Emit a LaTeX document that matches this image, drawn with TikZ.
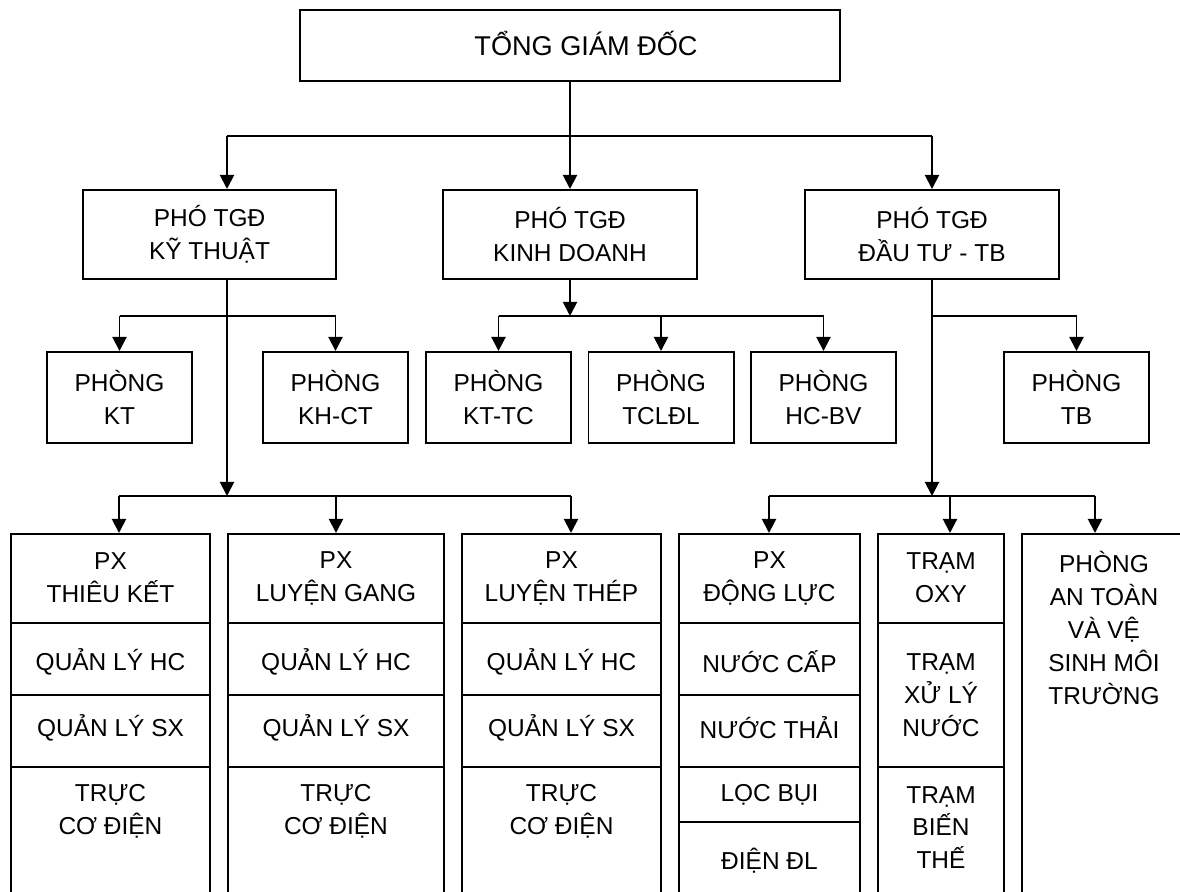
\documentclass[tikz,border=0pt]{standalone}
\usepackage{fontspec}
\setmainfont{Liberation Sans}
\usetikzlibrary{arrows.meta}

\begin{document}
\begin{tikzpicture}[
  x=0.025cm, y=-0.025cm,
  every node/.style={font=\fontsize{17.4}{23.4}\selectfont},
  box/.style={draw, line width=1.4pt, align=center, inner sep=0pt},
  lbl/.style={align=center, inner sep=0pt},
  wire/.style={line width=1.4pt},
  link/.style={wire, -{Triangle[length=0.35cm, width=0.35cm]}},
]

% page frame (pixel units, y grows downward)
\path[use as bounding box, clip] (0,0) rectangle (1180,892);

% ============================================================
% TOP LEVELS
% ============================================================
\node[box, minimum width=13.5cm, minimum height=1.775cm]
  (tgd) at (570,45.5) {};
\node[lbl, font=\fontsize{19.3}{24}\selectfont]
  (tgd-txt) at (586,43) {TỔNG GIÁM ĐỐC};

\node[box, minimum width=6.33cm, minimum height=2.225cm]
  (pkt) at (209.5,234.5) {PHÓ TGĐ\\KỸ THUẬT};
\node[box, minimum width=6.33cm, minimum height=2.225cm]
  (pkd) at (570,234.5) {PHÓ TGĐ\\KINH DOANH};
\node[box, minimum width=6.33cm, minimum height=2.225cm]
  (pdt) at (932,234.5) {PHÓ TGĐ\\ĐẦU TƯ - TB};

% offices
\foreach \nm/\xc/\txt in {pkythuat/119.5/KT, pkhct/335.5/KH-CT,
    pkttc/498.5/KT-TC, ptcldl/661/TCLĐL, phcbv/823.5/HC-BV,
    pthietbi/1076.5/TB}
  \node[box, minimum width=3.625cm, minimum height=2.275cm]
    (\nm) at (\xc,397.5) {PHÒNG\\\txt};

% ============================================================
% BOTTOM COLUMNS
% name, centre x, width (cm)
% ============================================================
\foreach \nm/\xc/\w in {thieuket/110.5/4.975, luyengang/336/5.4,
    luyenthep/561.5/4.975, donglu/769.5/4.525, tram/941/3.15,
    antoan/1104/4.1}
  \node[box, anchor=north, minimum width=\w cm, minimum height=9.3cm]
    (\nm) at (\xc,533) {};

% the three PX columns share their rows
\foreach \nm/\xc/\txt in {thieuket/110.5/THIÊU KẾT,
    luyengang/336/LUYỆN GANG, luyenthep/561.5/LUYỆN THÉP}{
  \node[lbl] (\nm-px) at (\xc,578) {PX\\\txt};
  \node[lbl] (\nm-hc) at (\xc,662) {QUẢN LÝ HC};
  \node[lbl] (\nm-sx) at (\xc,728) {QUẢN LÝ SX};
  \node[lbl] (\nm-cd) at (\xc,811) {TRỰC\\CƠ ĐIỆN};
  \foreach \y in {623,695,767}
    \draw[wire] (\nm.west |- 0,\y) -- (\nm.east |- 0,\y);
}

% PX dong luc
\node[lbl] (dl-px) at (769.5,578) {PX\\ĐỘNG LỰC};
\node[lbl] (dl-nc) at (769.5,662) {NƯỚC CẤP};
\node[lbl] (dl-nt) at (769.5,728) {NƯỚC THẢI};
\node[lbl] (dl-lb) at (769.5,795) {LỌC BỤI};
\node[lbl] (dl-dd) at (769.5,861) {ĐIỆN ĐL};
\foreach \y in {623,695,767,822}
  \draw[wire] (donglu.west |- 0,\y) -- (donglu.east |- 0,\y);

% stations
\node[lbl] (tr-oxy) at (941,578) {TRẠM\\OXY};
\node[lbl] (tr-xl) at (941,695.5) {TRẠM\\XỬ LÝ\\NƯỚC};
\node[lbl] (tr-bt) at (941,827.5) {TRẠM\\BIẾN\\THẾ};
\foreach \y in {623,767}
  \draw[wire] (tram.west |- 0,\y) -- (tram.east |- 0,\y);

% safety office
\node[lbl] (at-txt) at (1104,628) {PHÒNG\\AN TOÀN\\VÀ VỆ\\SINH MÔI\\TRƯỜNG};

% ============================================================
% CONNECTORS
% ============================================================
\coordinate (j1) at (570,136);
\coordinate (ktx) at (227,136);
\coordinate (dtx) at (932,136);
\draw[wire] (tgd.south) -- (j1);
\draw[wire] (ktx) -- (dtx);
\draw[link] (ktx) -- (ktx |- pkt.north);
\draw[link] (j1) -- (pkd.north);
\draw[link] (dtx) -- (pdt.north);

% KT branch
\coordinate (kt2a) at (119.5,316);
\coordinate (kt2b) at (335.5,316);
\coordinate (kt3) at (227,496);
\coordinate (kt3a) at (119,496);
\coordinate (kt3b) at (336,496);
\coordinate (kt3c) at (571,496);
\draw[link] (ktx |- pkt.south) -- (kt3);
\draw[wire] (kt2a) -- (kt2b);
\draw[link] (kt2a) -- (pkythuat.north);
\draw[link] (kt2b) -- (pkhct.north);
\draw[wire] (kt3a) -- (kt3c);
\draw[link] (kt3a) -- (kt3a |- thieuket.north);
\draw[link] (kt3b) -- (kt3b |- luyengang.north);
\draw[link] (kt3c) -- (kt3c |- luyenthep.north);

% KD branch
\coordinate (kd2) at (570,316);
\coordinate (kd2a) at (498.5,316);
\coordinate (kd2b) at (661,316);
\coordinate (kd2c) at (823.5,316);
\draw[link] (pkd.south) -- (kd2);
\draw[wire] (kd2a) -- (kd2c);
\draw[link] (kd2a) -- (pkttc.north);
\draw[link] (kd2b) -- (ptcldl.north);
\draw[link] (kd2c) -- (phcbv.north);

% DT branch
\coordinate (dt2) at (932,316);
\coordinate (dt2a) at (1076.5,316);
\coordinate (dt3) at (932,496);
\coordinate (dt3a) at (769,496);
\coordinate (dt3b) at (950,496);
\coordinate (dt3c) at (1095,496);
\draw[link] (pdt.south) -- (dt3);
\draw[wire] (dt2) -- (dt2a);
\draw[link] (dt2a) -- (pthietbi.north);
\draw[wire] (dt3a) -- (dt3c);
\draw[link] (dt3a) -- (dt3a |- donglu.north);
\draw[link] (dt3b) -- (dt3b |- tram.north);
\draw[link] (dt3c) -- (dt3c |- antoan.north);

\end{tikzpicture}
\end{document}
